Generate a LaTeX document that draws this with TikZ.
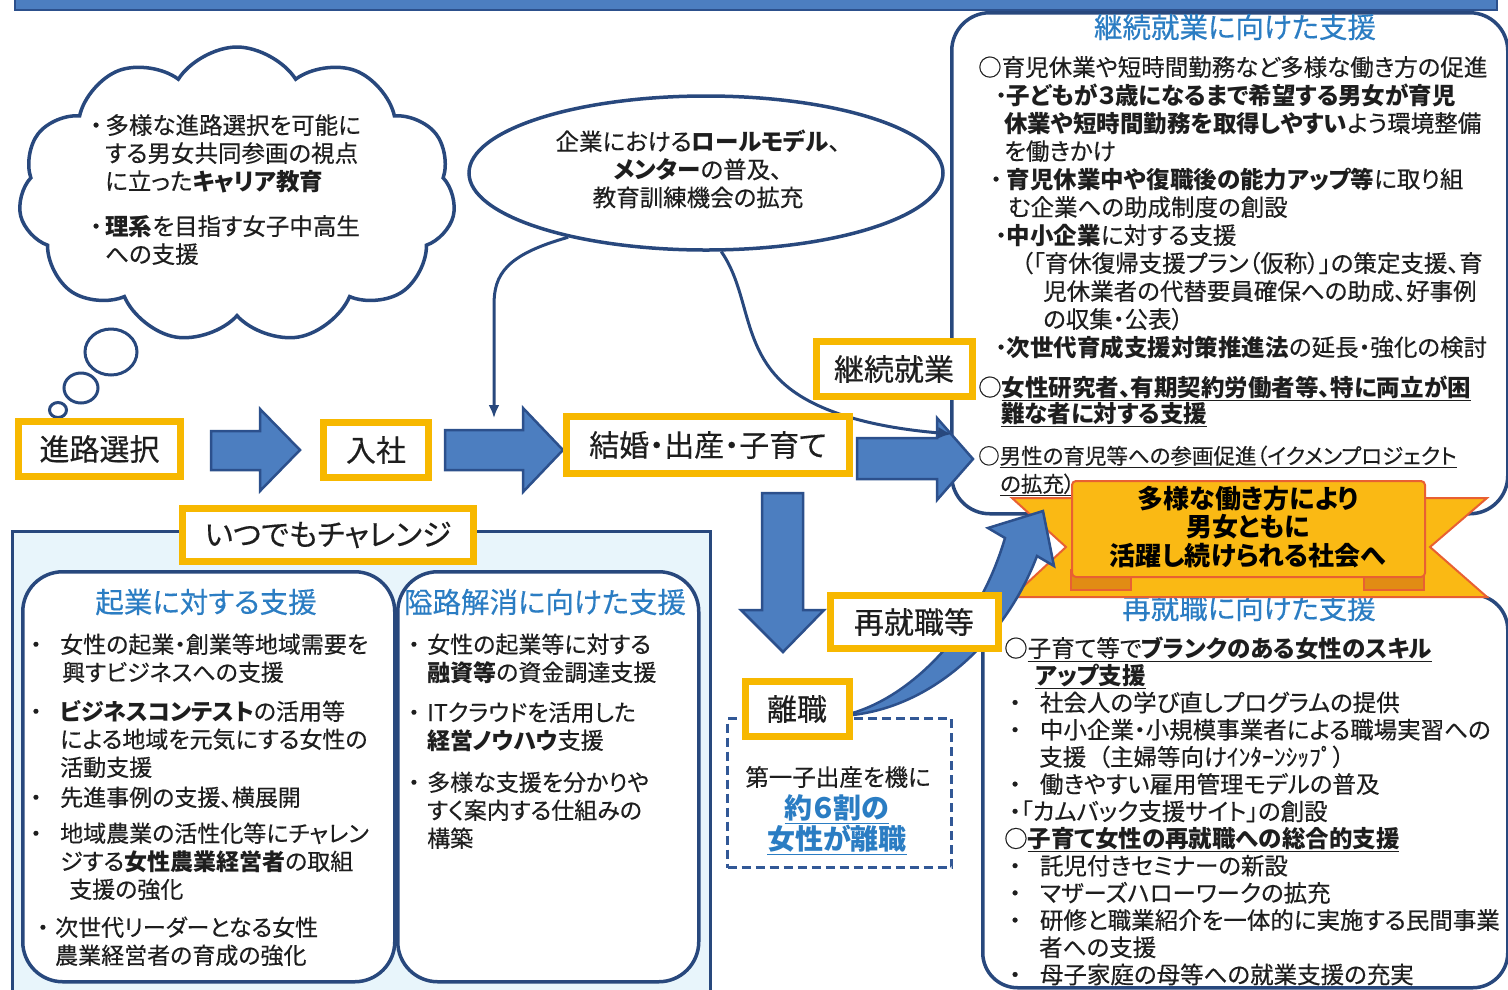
\documentclass[tikz,border=0pt]{standalone}
\usepackage{fontspec}
\setmainfont{Noto Sans CJK JP}[RawFeature=+palt, UprightFeatures={FakeBold=0.35}]
\usetikzlibrary{shapes.symbols,shapes.geometric,arrows.meta,calc}
\definecolor{navy}{RGB}{40,72,125}
\definecolor{gold}{RGB}{247,184,0}
\definecolor{abl}{RGB}{76,126,192}
\definecolor{abd}{RGB}{44,80,140}
\definecolor{ttlc}{RGB}{43,125,195}
\definecolor{lbg}{RGB}{232,245,251}
\definecolor{bnf}{RGB}{250,185,20}
\definecolor{bnd}{RGB}{232,96,50}
\definecolor{bnk}{RGB}{225,140,20}
\definecolor{txt}{RGB}{30,30,30}
\definecolor{dsh}{RGB}{50,88,150}
\newcommand\bk{\makebox[35pt][l]{\hspace*{5pt}・}}
\newcommand\bm{\makebox[22pt][l]{\hspace*{3pt}・}}
\newcommand\bl{\hspace*{5pt}・\hspace*{19pt}}
\begin{document}
\begin{tikzpicture}[x=1pt,y=-1pt,
  ybox/.style={draw=gold, line width=7pt, fill=white, inner sep=0pt, font=\fontsize{30}{34}\selectfont, text=txt},
  blockarr/.style={fill=abl, draw=abd, line width=2.5pt, line join=miter},
  panel/.style={draw=navy, line width=3.5pt, fill=white, inner sep=0pt, anchor=north west},
  conn/.style={draw=navy, line width=3pt},
  body/.style={anchor=base west, inner sep=0pt, text width=560pt, align=left, font=\fontsize{23.5}{28}\selectfont, text=txt},
  ttlstyle/.style={inner sep=0pt, font=\fontsize{28.5}{32}\selectfont, text=ttlc},
]
\useasboundingbox (0,0) rectangle (1508,989);
\fill[white] (0,0) rectangle (1508,989);

% top bar
\node[fill=abl, draw=abd, line width=1.5pt, minimum width=1482pt, minimum height=16pt, anchor=north west, inner sep=0pt] (topbar) at (14,-7) {};

% panels
\node[panel, fill=lbg, line width=3pt, minimum width=698pt, minimum height=480pt] (lb) at (11,530) {};
\node[panel, rounded corners=40pt, minimum width=372pt, minimum height=410pt] (kg) at (21,570) {};
\node[panel, rounded corners=40pt, minimum width=301pt, minimum height=410pt] (ar) at (396,570) {};
\node[panel, rounded corners=38pt, minimum width=556pt, minimum height=501pt] (up) at (950,11) {};
\node[panel, rounded corners=35pt, minimum width=525pt, minimum height=393pt] (dn) at (981,593) {};
\node[panel, draw=dsh, line width=3pt, dash pattern=on 9pt off 5pt, minimum width=224pt, minimum height=149pt] (dash) at (726,717) {};

% cloud & ellipse
\node[cloud, draw=navy, line width=3.5pt, fill=white, cloud puffs=11, cloud puff arc=115, minimum width=437pt, minimum height=296pt, inner sep=0pt] (cloud) at (237,195) {};
\node[ellipse, draw=navy, line width=3pt, fill=white, minimum width=52pt, minimum height=46pt, inner sep=0pt] (b1) at (111,352) {};
\node[ellipse, draw=navy, line width=3pt, fill=white, minimum width=34pt, minimum height=30pt, inner sep=0pt] (b2) at (81,388) {};
\node[ellipse, draw=navy, line width=3pt, fill=white, minimum width=17pt, minimum height=15pt, inner sep=0pt] (b3) at (58,410) {};
\node[ellipse, draw=navy, line width=3.5pt, fill=white, minimum width=474pt, minimum height=154pt, inner sep=0pt] (rm) at (706,173) {};

% texts
\node[body] (clt) at (90,134) {・\hspace*{3.5pt}多様な進路選択を可能に\\\hspace*{15pt}する男女共同参画の視点\\\hspace*{15pt}に立った\textbf{キャリア教育}\\[17pt]・\hspace*{3.5pt}\textbf{理系}を目指す女子中高生\\\hspace*{15pt}への支援};

\node[align=center, inner sep=0pt, font=\fontsize{23.5}{28}\selectfont, text=txt] (rmt) at (698,169) {企業における\textbf{ロールモデル}、\\\textbf{メンター}の普及、\\教育訓練機会の拡充};

\node[ttlstyle] (tup) at (1235,27) {継続就業に向けた支援};
\node[ttlstyle] (tdn) at (1249,608) {再就職に向けた支援};
\node[ttlstyle] (tkg) at (206,602) {起業に対する支援};
\node[ttlstyle] (tar) at (545,602) {隘路解消に向けた支援};

\node[body] (upt) at (978,76) {○育児休業や短時間勤務など多様な働き方の促進\\
\hspace*{17pt}・\textbf{子どもが３歳になるまで希望する男女が育児}\\
\hspace*{26pt}\textbf{休業や短時間勤務を取得しやすい}よう環境整備\\
\hspace*{26pt}を働きかけ\\
\hspace*{12pt}・\hspace*{5pt}\textbf{育児休業中や復職後の能力アップ等}に取り組\\
\hspace*{30pt}む企業への助成制度の創設\\
\hspace*{17pt}・\textbf{中小企業}に対する支援\\
\hspace*{43pt}（「育休復帰支援プラン（仮称）」の策定支援、育\\
\hspace*{65pt}児休業者の代替要員確保への助成、好事例\\
\hspace*{65pt}の収集・公表）\\
\hspace*{17pt}・\textbf{次世代育成支援対策推進法}の延長・強化の検討\\[12pt]
○\underline{\textbf{女性研究者、有期契約労働者等、特に両立が困}}\\[-2pt]
\hspace*{23pt}\underline{\textbf{難な者に対する支援}}\\[14pt]
{\fontsize{21.5}{28}\selectfont ○\underline{男性の育児等への参画促進（イクメンプロジェクト}}\\
\hspace*{22pt}{\fontsize{21.5}{28}\selectfont\underline{の拡充）}}};

\node[body, font=\fontsize{23.5}{27.2}\selectfont] (dnt) at (1004,657) {○\underline{子育て等で\textbf{ブランクのある女性のスキル}}\\
\hspace*{31pt}\underline{\textbf{アップ支援}}\\
\bl 社会人の学び直しプログラムの提供\\
\bl 中小企業・小規模事業者による職場実習への\\
\hspace*{35pt}支援\hspace*{12pt}（主婦等向けｲﾝﾀｰﾝｼｯﾌﾟ）\\
\bl 働きやすい雇用管理モデルの普及\\
\hspace*{5pt}・「カムバック支援サイト」の創設\\
○\underline{\textbf{子育て女性の再就職への総合的支援}}\\
\bl 託児付きセミナーの新設\\
\bl マザーズハローワークの拡充\\
\bl 研修と職業紹介を一体的に実施する民間事業\\
\hspace*{35pt}者への支援\\
\bl 母子家庭の母等への就業支援の充実};

\node[body, font=\fontsize{23}{28}\selectfont] (kgt) at (25,653) {\bk 女性の起業・創業等地域需要を\\
\hspace*{37pt}興すビジネスへの支援\\[11pt]
\bk\textbf{ビジネスコンテスト}の活用等\\
\hspace*{35pt}による地域を元気にする女性の\\
\hspace*{35pt}活動支援\\[2pt]
\bk 先進事例の支援、横展開\\[8pt]
\bk 地域農業の活性化等にチャレン\\
\hspace*{35pt}ジする\textbf{女性農業経営者}の取組\\
\hspace*{44pt}支援の強化\\[10pt]
\makebox[30pt][l]{\hspace*{12pt}・}次世代リーダーとなる女性\\
\hspace*{30pt}農業経営者の育成の強化};

\node[body, font=\fontsize{23}{28}\selectfont] (art) at (405,653) {\bm 女性の起業等に対する\\
\hspace*{22pt}\textbf{融資等}の資金調達支援\\[12pt]
\bm ITクラウドを活用した\\
\hspace*{22pt}\textbf{経営ノウハウ}支援\\[14pt]
\bm 多様な支援を分かりや\\
\hspace*{22pt}すく案内する仕組みの\\
\hspace*{22pt}構築};

% block arrows
\draw[blockarr] (211,431) -- (260,431) -- (260,409) -- (300,450) -- (260,491) -- (260,470) -- (211,470) -- cycle;
\draw[blockarr] (445,430) -- (523,430) -- (523,408) -- (563,450) -- (523,492) -- (523,470) -- (445,470) -- cycle;
\draw[blockarr] (857,438) -- (937,438) -- (937,418) -- (973,459) -- (937,500) -- (937,479) -- (857,479) -- cycle;
\draw[blockarr] (762,493) -- (803,493) -- (803,610) -- (824,610) -- (783,652) -- (741,610) -- (762,610) -- cycle;

% banner
\draw[fill=bnf, draw=bnd, line width=2pt] (1012,498) -- (1487,498) -- (1430,547) -- (1487,597) -- (1012,597) -- (1066,547) -- cycle;
\draw[fill=bnk, draw=bnd, line width=1.5pt] (1071,570) rectangle (1131,590);
\draw[fill=bnk, draw=bnd, line width=1.5pt] (1364,570) rectangle (1424,590);
\node[fill=bnf, draw=bnd, line width=2pt, rounded corners=4pt, minimum width=353pt, minimum height=96pt, anchor=north west, inner sep=0pt] (ban) at (1071,480) {};
\node[align=center, inner sep=0pt, font=\bfseries\fontsize{26}{28.5}\selectfont, text=black] (bant) at (1248,527) {多様な働き方により\\男女ともに\\活躍し続けられる社会へ};

% curved block arrow
\draw[blockarr] (840,716) .. controls (900,705) and (975,640) .. (1005,538) -- (988,528) -- (1043,511) -- (1054,566) -- (1037,556) .. controls (1005,640) and (930,712) .. (840,716) -- cycle;

% thin connectors
\coordinate (t1) at (494,418);
\coordinate (t2) at (952,434);
\draw[conn, -{Latex[length=13pt,width=11pt]}] (rm.-155) .. controls (505,255) and (494,275) .. (494,305) -- (t1);
\draw[conn, -{Latex[length=14pt,width=12pt]}] (rm.-79) .. controls (748,290) and (742,340) .. (778,378) .. controls (812,414) and (880,428) .. (t2);

% yellow boxes
\node[ybox, minimum width=162pt, minimum height=55pt] (sentaku) at (99.5,449) {進路選択};
\node[ybox, minimum width=105pt, minimum height=55pt] (nyusha) at (376,450) {入社};
\node[ybox, minimum width=283pt, minimum height=57pt] (kekkon) at (708,445) {結婚・出産・子育て};
\node[ybox, minimum width=156pt, minimum height=55pt] (keizoku) at (894,369) {継続就業};
\node[ybox, minimum width=291pt, minimum height=53pt] (itsu) at (328,535) {いつでもチャレンジ};
\node[ybox, minimum width=168pt, minimum height=53pt] (sai) at (914,622) {再就職等};
\node[ybox, minimum width=104pt, minimum height=55pt] (rishoku) at (797,709) {離職};

% dashed box text
\node[inner sep=0pt, font=\fontsize{23.5}{28}\selectfont, text=txt] (d1) at (838,777) {第一子出産を機に};
\node[inner sep=0pt, font=\bfseries\fontsize{28}{32}\selectfont, text=ttlc] (d2) at (837,809) {\underline{約６割の}};
\node[inner sep=0pt, font=\bfseries\fontsize{28}{32}\selectfont, text=ttlc] (d3) at (837,840) {\underline{女性が離職}};
\end{tikzpicture}
\end{document}
